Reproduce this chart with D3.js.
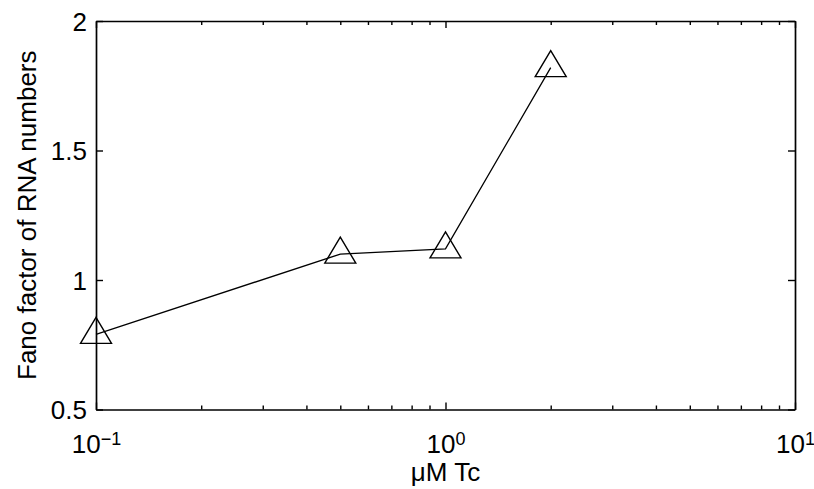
<!DOCTYPE html>
<html>
<head>
<meta charset="utf-8">
<script src="https://cdn.jsdelivr.net/npm/d3@7"></script>
<style>
  body { margin: 0; background: #fff; }
  text { font-family: "Liberation Sans", Arial, Helvetica, sans-serif; fill: #000; }
</style>
</head>
<body>
<div id="chart"></div>
<script>
// data
const concentrations = [0.1, 0.5, 1, 2];          // µM Tc
const fanoFactors = [0.79, 1.10, 1.12, 1.82];     // Fano factor of RNA numbers

const xMajorTicks = [0.1, 1, 10];
const xTickExponents = ['\u22121', '0', '1'];
const xMinorTicks = [0.2, 0.3, 0.4, 0.5, 0.6, 0.7, 0.8, 0.9, 2, 3, 4, 5, 6, 7, 8, 9];
const yTicks = [0.5, 1, 1.5, 2];
const yTickLabels = ['0.5', '1', '1.5', '2'];

const xLabel = '\u03bcM Tc';
const yLabel = 'Fano factor of RNA numbers';

const w = 814;
const h = 489;
const margin = { top: 21, right: 19, bottom: 79.5, left: 96 };
const fontSize = 26;

const svg = d3.select('#chart')
  .append('svg')
  .attr('width', w)
  .attr('height', h);

const xScale = d3.scaleLog()
  .domain([0.1, 10])
  .range([margin.left, w - margin.right]);

const yScale = d3.scaleLinear()
  .domain([0.5, 2])
  .range([h - margin.bottom, margin.top]);

const styleAxis = (g) => {
  g.selectAll('.domain').attr('stroke', '#000').attr('stroke-width', 1.7);
  g.selectAll('.tick line').attr('stroke', '#000').attr('stroke-width', 1.4);
  g.selectAll('text').style('font-size', fontSize + 'px').attr('fill', '#000');
};

// bottom axis, major ticks + labels
const xAxis = svg.append('g')
  .attr('transform', 'translate(0,' + (h - margin.bottom) + ')')
  .call(d3.axisBottom(xScale).tickValues(xMajorTicks).tickSize(-7).tickSizeOuter(0).tickPadding(25)
    .tickFormat(() => '10'))
  .call(styleAxis);

xAxis.selectAll('.tick text').each(function(d, i) {
  d3.select(this).append('tspan')
    .attr('dy', '-0.45em')
    .style('font-size', '18px')
    .text(xTickExponents[i]);
});

// bottom minor ticks
svg.append('g')
  .attr('transform', 'translate(0,' + (h - margin.bottom) + ')')
  .call(d3.axisBottom(xScale).tickValues(xMinorTicks).tickSize(-4).tickFormat(''))
  .call(g => g.select('.domain').remove())
  .call(styleAxis);

// top axis (ticks only)
svg.append('g')
  .attr('transform', 'translate(0,' + margin.top + ')')
  .call(d3.axisTop(xScale).tickValues(xMajorTicks).tickSize(-7).tickSizeOuter(0).tickFormat(''))
  .call(styleAxis);

svg.append('g')
  .attr('transform', 'translate(0,' + margin.top + ')')
  .call(d3.axisTop(xScale).tickValues(xMinorTicks).tickSize(-4).tickFormat(''))
  .call(g => g.select('.domain').remove())
  .call(styleAxis);

// left axis
svg.append('g')
  .attr('transform', 'translate(' + margin.left + ',0)')
  .call(d3.axisLeft(yScale).tickValues(yTicks).tickSize(-7).tickSizeOuter(0).tickPadding(9)
    .tickFormat((d, i) => yTickLabels[i]))
  .call(styleAxis)
  .call(g => g.selectAll('.tick text').attr('dy', '0.36em'));

// right axis (ticks only)
svg.append('g')
  .attr('transform', 'translate(' + (w - margin.right) + ',0)')
  .call(d3.axisRight(yScale).tickValues(yTicks).tickSize(-7).tickSizeOuter(0).tickFormat(''))
  .call(styleAxis);

// data line
const points = concentrations.map((c, i) => [c, fanoFactors[i]]);

const line = d3.line()
  .x(d => xScale(d[0]))
  .y(d => yScale(d[1]));

svg.append('path')
  .datum(points)
  .attr('d', line)
  .attr('fill', 'none')
  .attr('stroke', '#000')
  .attr('stroke-width', 1.3);

// triangle markers (open)
svg.selectAll('.marker')
  .data(points)
  .enter()
  .append('path')
  .attr('class', 'marker')
  .attr('transform', d => 'translate(' + xScale(d[0]) + ',' + yScale(d[1]) + ')')
  .attr('d', 'M0,-17L15.5,9L-15.5,9Z')
  .attr('fill', 'none')
  .attr('stroke', '#000')
  .attr('stroke-width', 1.4)
  .attr('stroke-linejoin', 'miter');

// axis labels
svg.append('text')
  .attr('x', (margin.left + w - margin.right) / 2)
  .attr('y', 481)
  .attr('text-anchor', 'middle')
  .style('font-size', fontSize + 'px')
  .text(xLabel);

svg.append('text')
  .attr('transform', 'translate(36,' + ((margin.top + h - margin.bottom) / 2) + ')rotate(-90)')
  .attr('text-anchor', 'middle')
  .style('font-size', fontSize + 'px')
  .text(yLabel);
</script>
</body>
</html>
